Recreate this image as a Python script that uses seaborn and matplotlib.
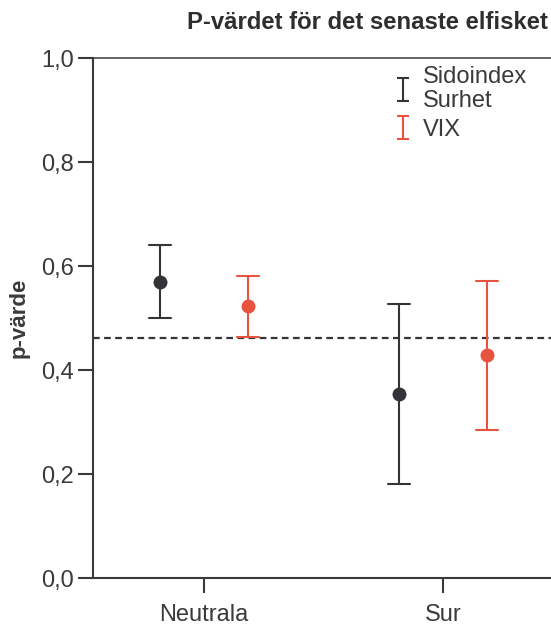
import numpy as np
import pandas as pd
import matplotlib
matplotlib.use("Agg")
import matplotlib.pyplot as plt
import seaborn as sns

# ---- data ----
categories = ["Neutrala", "Sur"]
series = ["Sidoindex\nSurhet", "VIX"]
point_values = {"Sidoindex\nSurhet": [0.569, 0.354], "VIX": [0.523, 0.429]}
lower_values = {"Sidoindex\nSurhet": [0.500, 0.181], "VIX": [0.463, 0.285]}
upper_values = {"Sidoindex\nSurhet": [0.640, 0.527], "VIX": [0.581, 0.571]}
reference_line = 0.462
y_ticks = [0.0, 0.2, 0.4, 0.6, 0.8, 1.0]
y_tick_labels = ["0,0", "0,2", "0,4", "0,6", "0,8", "1,0"]
title = "P-värdet för det senaste elfisket"
y_label = "p-värde"

colors = {"Sidoindex\nSurhet": "#333338", "VIX": "#e8533f"}
text_color = "#3a3a3a"

# long table: lower / point / upper per group -> median = point, full-range interval = bar
rows = []
for s in series:
    for i, c in enumerate(categories):
        for v in (lower_values[s][i], point_values[s][i], upper_values[s][i]):
            rows.append({"kategori": c, "serie": s, "p": v})
df = pd.DataFrame(rows)

sns.set_theme(style="white")
plt.rcParams["font.family"] = ["Liberation Sans", "DejaVu Sans"]

fig = plt.figure(figsize=(5.51, 6.30), dpi=100)
ax = fig.add_axes([93 / 551, 52 / 630, 458 / 551, 520 / 630])

sns.pointplot(
    data=df, x="kategori", y="p", hue="serie", order=categories, hue_order=series,
    estimator="median", errorbar=("pi", 100), dodge=0.368, linestyle="none",
    palette=colors, markers="o", markersize=8, capsize=0.092,
    err_kws={"linewidth": 1.5}, ax=ax, legend=False,
)

ax.axhline(reference_line, color="#333338", linestyle=(0, (3, 2)), linewidth=1.6, zorder=0)

ax.set_ylim(0, 1.0)
ax.set_xlim(-0.464, 1.452)
ax.set_yticks(y_ticks)
ax.set_yticklabels(y_tick_labels)
ax.set_xlabel("")
ax.set_ylabel(y_label, fontsize=16, fontweight="bold", color=text_color, labelpad=8)
ax.set_title(title, loc="right", fontsize=17.2, fontweight="bold", color="#2e2e2e",
             pad=21, x=0.994)

for side in ["left", "bottom"]:
    ax.spines[side].set_color(text_color)
    ax.spines[side].set_linewidth(1.5)
ax.spines["top"].set_color(text_color)
ax.spines["top"].set_linewidth(1.1)
ax.spines["right"].set_visible(False)
ax.tick_params(axis="both", which="major", direction="out", length=10.8, width=1.5,
               color=text_color, labelcolor=text_color, labelsize=17, left=True, bottom=True)
ax.tick_params(axis="x", pad=8)
ax.tick_params(axis="y", pad=3)

# legend with errorbar-style handles
handles = []
for s in series:
    h = ax.errorbar([np.nan], [np.nan], yerr=[[0.1], [0.1]], fmt="none",
                    ecolor=colors[s], elinewidth=1.5, capsize=4.3, capthick=1.5)
    handles.append(h)
leg = ax.legend(handles, series, loc="upper left", bbox_to_anchor=(0.662, 0.984),
                frameon=False, fontsize=17, handlelength=0.6, handletextpad=0.55,
                labelspacing=0.3, borderpad=0, borderaxespad=0, numpoints=1)
for t in leg.get_texts():
    t.set_color(text_color)
    t.set_linespacing(1.09)

fig.savefig("out.png", dpi=100)
